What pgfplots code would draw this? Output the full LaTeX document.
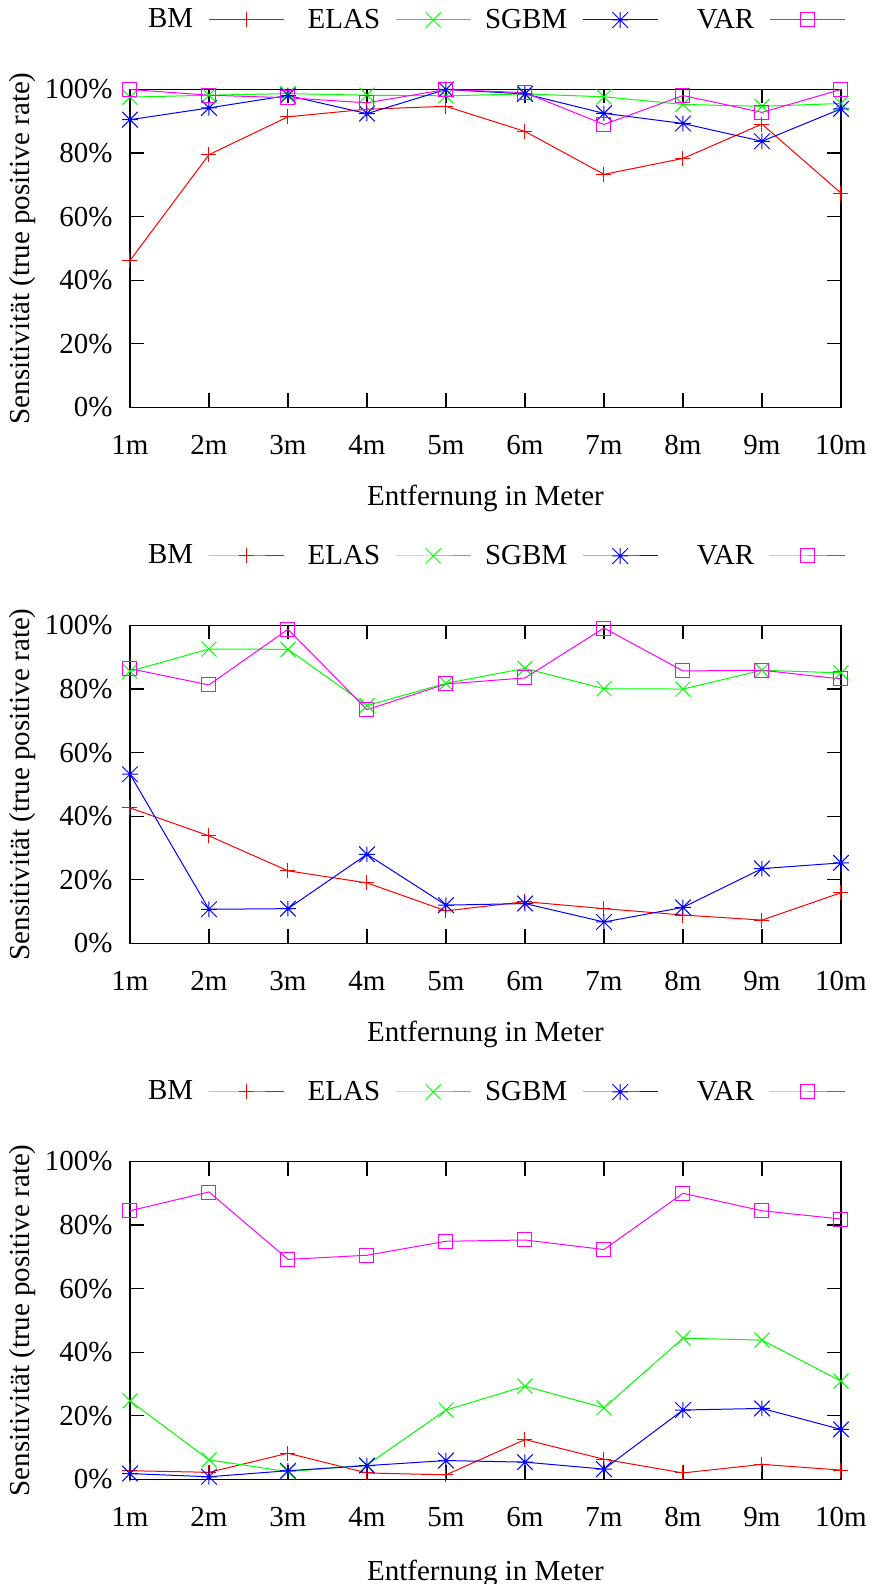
\documentclass[border=0pt]{standalone}
\usepackage{fontspec}
\setmainfont{Liberation Serif}
\usepackage{pgfplots}
\usepackage{pgfplotstable}
\pgfplotsset{compat=1.18}

% gnuplot-style point types
\pgfdeclareplotmark{gpplus}{%
  \pgfpathmoveto{\pgfqpoint{-\pgfplotmarksize}{0pt}}%
  \pgfpathlineto{\pgfqpoint{\pgfplotmarksize}{0pt}}%
  \pgfpathmoveto{\pgfqpoint{0pt}{-\pgfplotmarksize}}%
  \pgfpathlineto{\pgfqpoint{0pt}{\pgfplotmarksize}}%
  \pgfusepathqstroke}
\pgfdeclareplotmark{gpcross}{%
  \pgfpathmoveto{\pgfqpoint{-\pgfplotmarksize}{-\pgfplotmarksize}}%
  \pgfpathlineto{\pgfqpoint{\pgfplotmarksize}{\pgfplotmarksize}}%
  \pgfpathmoveto{\pgfqpoint{-\pgfplotmarksize}{\pgfplotmarksize}}%
  \pgfpathlineto{\pgfqpoint{\pgfplotmarksize}{-\pgfplotmarksize}}%
  \pgfusepathqstroke}
\pgfdeclareplotmark{gpstar}{%
  \pgfpathmoveto{\pgfqpoint{-\pgfplotmarksize}{0pt}}%
  \pgfpathlineto{\pgfqpoint{\pgfplotmarksize}{0pt}}%
  \pgfpathmoveto{\pgfqpoint{0pt}{-\pgfplotmarksize}}%
  \pgfpathlineto{\pgfqpoint{0pt}{\pgfplotmarksize}}%
  \pgfpathmoveto{\pgfqpoint{-\pgfplotmarksize}{-\pgfplotmarksize}}%
  \pgfpathlineto{\pgfqpoint{\pgfplotmarksize}{\pgfplotmarksize}}%
  \pgfpathmoveto{\pgfqpoint{-\pgfplotmarksize}{\pgfplotmarksize}}%
  \pgfpathlineto{\pgfqpoint{\pgfplotmarksize}{-\pgfplotmarksize}}%
  \pgfusepathqstroke}

\definecolor{gpred}{RGB}{255,0,0}
\definecolor{gpgreen}{RGB}{0,255,0}
\definecolor{gpblue}{RGB}{0,0,255}
\definecolor{gpmagenta}{RGB}{255,0,255}

% Sensitivity per distance, one table per scenario
\pgfplotstableread{
x BM ELAS SGBM VAR
1 46.2 97.6 90.5 100
2 79.5 98.2 94.2 98.2
3 91.4 98.7 98.1 97.4
4 93.8 98.2 92.4 95.8
5 94.7 98.0 100 100
6 86.8 98.6 98.6 99.0
7 73.3 97.7 92.5 89.0
8 78.3 95.3 89.3 98.1
9 89.1 94.7 83.7 92.8
10 67.4 95.6 93.9 100
}\tableA
\pgfplotstableread{
x BM ELAS SGBM VAR
1 42.6 85.6 53.2 86.4
2 33.8 92.6 10.7 81.3
3 22.8 92.5 10.9 98.8
4 19.0 74.8 28.0 73.5
5 10.2 81.8 12.0 81.6
6 13.1 86.5 12.5 83.5
7 10.9 80.1 6.7 99.2
8 8.9 80.0 11.3 85.7
9 7.3 85.9 23.5 85.9
10 15.9 85.1 25.3 83.2
}\tableB
\pgfplotstableread{
x BM ELAS SGBM VAR
1 2.7 24.7 1.8 84.5
2 2.2 6.1 0.8 90.4
3 8.2 2.4 2.7 69.2
4 2.0 4.5 4.3 70.5
5 1.4 21.8 5.9 74.9
6 12.5 29.3 5.4 75.3
7 6.3 22.5 3.2 72.3
8 2.0 44.4 21.8 90.0
9 4.7 43.8 22.3 84.5
10 2.9 30.9 15.7 81.9
}\tableC

\newcommand{\fs}{\fontsize{14.5}{17}\selectfont}

\pgfplotsset{
  gpaxis/.style={
    scale only axis,
    width=355.5pt, height=158.9pt,
    anchor=south west,
    font=\fs,
    clip=false,
    xmin=1, xmax=10, ymin=0, ymax=100,
    xtick={1,...,10},
    xticklabels={1m,2m,3m,4m,5m,6m,7m,8m,9m,10m},
    ytick={0,20,...,100},
    yticklabel={\pgfmathprintnumber{\tick}\%},
    /pgf/number format/assume math mode=true,
    tick align=inside,
    major tick length=7pt,
    axis line style={line width=0.7pt},
    every tick/.style={black, line width=0.6pt},
    tick label style={font=\fs},
    xticklabel style={anchor=center, inner sep=0pt, yshift=-19pt},
    yticklabel style={anchor=east, inner sep=0pt, xshift=-8.5pt},
    xlabel={Entfernung in Meter},
    ylabel={Sensitivität (true positive rate)},
    xlabel style={at={(axis description cs:0.5,0)}, anchor=center, yshift=-45.5pt},
    ylabel style={at={(axis description cs:-0.1505,0.5)}, anchor=center},
    legend plot pos=right,
    legend columns=4,
    legend style={draw=none, fill=none, inner sep=0pt, outer sep=0pt,
      at={(1.006,1.2187)}, anchor=east, font=\fs,
      nodes={inner sep=0pt},
      /tikz/every odd column/.append style={column sep=7.5pt},
      /tikz/every even column/.append style={column sep=6pt}},
    legend image code/.code={%
      \draw[mark repeat=2,mark phase=2] plot coordinates {(0pt,0pt) (18.75pt,0pt) (37.5pt,0pt)};},
    every axis plot/.append style={line width=0.5pt},
  },
  sBM/.style={gpred, mark=gpplus, mark size=3.75pt, mark options={solid}},
  sELAS/.style={gpgreen, mark=gpcross, mark size=3.75pt, mark options={solid}},
  sSGBM/.style={gpblue, mark=gpstar, mark size=3.9pt, mark options={solid}},
  sVAR/.style={gpmagenta, mark=square, mark size=3.5pt, mark options={solid}},
}

\newcommand{\legendrow}{\legend{\makebox[42pt][r]{BM},\makebox[42pt][r]{ELAS},\makebox[42pt][r]{SGBM},\makebox[42pt][r]{VAR}}}

\begin{document}
\begin{tikzpicture}
\useasboundingbox (0,0) rectangle (436.5pt,792pt);

\begin{axis}[gpaxis, at={(65pt,588.35pt)}]
  \addplot[sBM] table[x=x,y=BM] {\tableA};
  \addplot[sELAS] table[x=x,y=ELAS] {\tableA};
  \addplot[sSGBM] table[x=x,y=SGBM] {\tableA};
  \addplot[sVAR] table[x=x,y=VAR] {\tableA};
  \legendrow
\end{axis}

\begin{axis}[gpaxis, at={(65pt,320.35pt)}]
  \addplot[sBM] table[x=x,y=BM] {\tableB};
  \addplot[sELAS] table[x=x,y=ELAS] {\tableB};
  \addplot[sSGBM] table[x=x,y=SGBM] {\tableB};
  \addplot[sVAR] table[x=x,y=VAR] {\tableB};
  \legendrow
\end{axis}

\begin{axis}[gpaxis, at={(65pt,52.35pt)}, xlabel style={yshift=-1.5pt}]
  \addplot[sBM] table[x=x,y=BM] {\tableC};
  \addplot[sELAS] table[x=x,y=ELAS] {\tableC};
  \addplot[sSGBM] table[x=x,y=SGBM] {\tableC};
  \addplot[sVAR] table[x=x,y=VAR] {\tableC};
  \legendrow
\end{axis}
\end{tikzpicture}
\end{document}
